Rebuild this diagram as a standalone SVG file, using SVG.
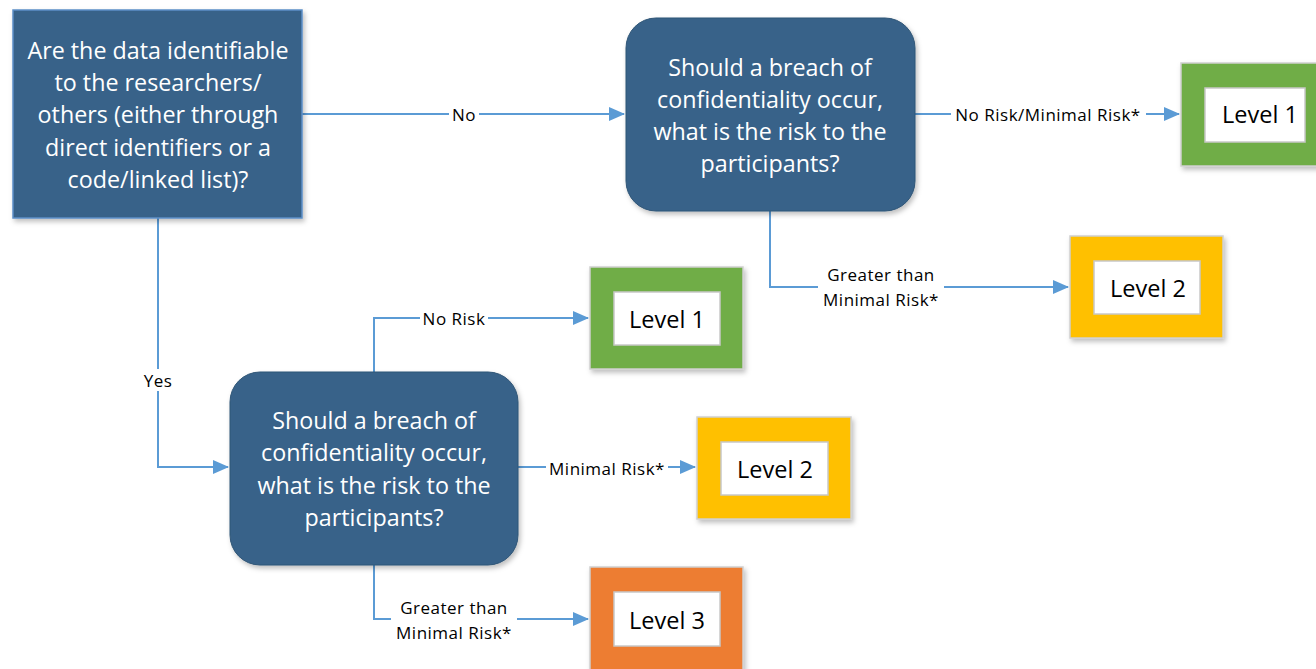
<svg xmlns="http://www.w3.org/2000/svg" width="1316" height="669" viewBox="0 0 1316 669">
<defs>
<marker id="arr" markerWidth="16" markerHeight="14" refX="15" refY="7" orient="auto" markerUnits="userSpaceOnUse">
<path d="M0,0 L16,7 L0,14 Z" fill="#5b9bd5"/>
</marker>
<filter id="sh" x="-10%" y="-10%" width="125%" height="125%">
<feDropShadow dx="2" dy="3" stdDeviation="2.5" flood-color="#000" flood-opacity="0.25"/>
</filter>
<style>
.q{fill:#386289;filter:url(#sh)}
.qt{font-family:"Open Sans","Liberation Sans",sans-serif;font-size:23.3px;fill:#fff;text-anchor:middle;dominant-baseline:central}
.lvl{font-family:"Open Sans","Liberation Sans",sans-serif;font-size:23.5px;fill:#000;text-anchor:middle;dominant-baseline:central}
.lab{font-family:"Open Sans","Liberation Sans",sans-serif;font-size:17px;letter-spacing:0.5px;fill:#000;text-anchor:middle;dominant-baseline:central}
.ln{fill:none;stroke:#5b9bd5;stroke-width:2}
.bg{fill:#fff}
.inner{fill:#fff;stroke:#c8c8c8;stroke-width:1.5}
.outer{stroke:#d0d0d0;stroke-width:1.5;filter:url(#sh)}
</style>
</defs>

<g id="connectors">
<path class="ln" d="M302,114 H624" marker-end="url(#arr)"/>
<path class="ln" d="M915,114 H1179" marker-end="url(#arr)"/>
<path class="ln" d="M770,211 V287 H1068" marker-end="url(#arr)"/>
<path class="ln" d="M158,218 V467 H228" marker-end="url(#arr)"/>
<path class="ln" d="M374,372 V318 H588" marker-end="url(#arr)"/>
<path class="ln" d="M518,467 H695" marker-end="url(#arr)"/>
<path class="ln" d="M374,565 V619 H588" marker-end="url(#arr)"/>
<rect class="bg" x="449" y="104" width="30" height="20"/>
<text class="lab" x="464" y="114">No</text>
<rect class="bg" x="951" y="104" width="195" height="20"/>
<text class="lab" x="1048" y="114">No Risk/Minimal Risk*</text>
<rect class="bg" x="818" y="262" width="126" height="50"/>
<text class="lab" x="881" y="274">Greater than</text>
<text class="lab" x="881" y="299">Minimal Risk*</text>
<rect class="bg" x="141" y="369" width="34" height="22"/>
<text class="lab" x="158" y="380">Yes</text>
<rect class="bg" x="420" y="308" width="68" height="20"/>
<text class="lab" x="454" y="318">No Risk</text>
<rect class="bg" x="546" y="458" width="122" height="20"/>
<text class="lab" x="607" y="468">Minimal Risk*</text>
<rect class="bg" x="391" y="594" width="126" height="50"/>
<text class="lab" x="454" y="607">Greater than</text>
<text class="lab" x="454" y="632">Minimal Risk*</text>
</g>

<g id="q1">
<rect x="13" y="10" width="289" height="208" fill="#386289" stroke="#5b8fc7" stroke-width="1.5" filter="url(#sh)"/>
<text class="qt" x="158" y="50">Are the data identifiable</text>
<text class="qt" x="158" y="82">to the researchers/</text>
<text class="qt" x="158" y="114">others (either through</text>
<text class="qt" x="158" y="147">direct identifiers or a</text>
<text class="qt" x="158" y="179">code/linked list)?</text>
</g>

<g id="q2">
<rect class="q" x="626" y="18" width="289" height="193" rx="30" stroke="#2f5576" stroke-width="1"/>
<text class="qt" x="770" y="67">Should a breach of</text>
<text class="qt" x="770" y="99">confidentiality occur,</text>
<text class="qt" x="770" y="131">what is the risk to the</text>
<text class="qt" x="770" y="163">participants?</text>
</g>

<g id="q3">
<rect class="q" x="230" y="372" width="288" height="193" rx="30" stroke="#2f5576" stroke-width="1"/>
<text class="qt" x="374" y="420">Should a breach of</text>
<text class="qt" x="374" y="452">confidentiality occur,</text>
<text class="qt" x="374" y="485">what is the risk to the</text>
<text class="qt" x="374" y="517">participants?</text>
</g>

<g id="level1-top">
<rect class="outer" x="1181" y="63" width="140" height="103" fill="#70ad47"/>
<rect class="inner" x="1205" y="88" width="100" height="54"/>
<text class="lvl" x="1260" y="114">Level 1</text>
</g>

<g id="level2-top">
<rect class="outer" x="1070" y="236" width="153" height="102" fill="#ffc000"/>
<rect class="inner" x="1094" y="261" width="106" height="53"/>
<text class="lvl" x="1148" y="288">Level 2</text>
</g>

<g id="level1-mid">
<rect class="outer" x="590" y="267" width="153" height="102" fill="#70ad47"/>
<rect class="inner" x="614" y="292" width="106" height="53"/>
<text class="lvl" x="667" y="319">Level 1</text>
</g>

<g id="level2-mid">
<rect class="outer" x="697" y="417" width="154" height="102" fill="#ffc000"/>
<rect class="inner" x="721" y="442" width="107" height="53"/>
<text class="lvl" x="775" y="469">Level 2</text>
</g>

<g id="level3">
<rect class="outer" x="590" y="567" width="153" height="110" fill="#ed7d31"/>
<rect class="inner" x="614" y="592" width="106" height="54"/>
<text class="lvl" x="667" y="620">Level 3</text>
</g>
</svg>
